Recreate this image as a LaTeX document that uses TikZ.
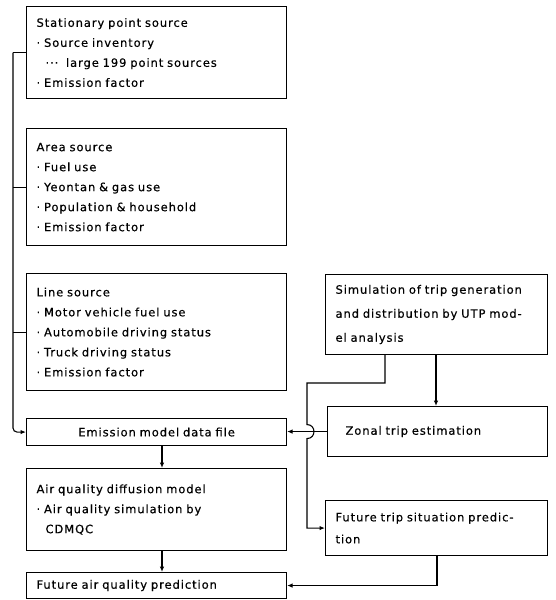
\documentclass[tikz,border=0pt]{standalone}
\usepackage{fontspec}
\setmainfont{DejaVu Sans}[LetterSpace=8,WordSpace=1.6,FakeBold=0.4]
\usetikzlibrary{arrows.meta}
\begin{document}
\begin{tikzpicture}[x=1pt,y=-1pt,
  box/.style={draw, line width=1.1pt, rectangle, anchor=north west, inner xsep=10pt, inner ysep=0pt, align=left, font=\fontsize{11.5pt}{20pt}\selectfont},
  conn/.style={line width=1.1pt},
  arr/.style={conn, -{Latex[length=5.5pt,width=4.5pt]}}]
\useasboundingbox (0,0) rectangle (555,600);

% left column
\node[box, minimum width=260pt, minimum height=92pt, text width=240pt] (sps) at (26,6)
  {Stationary point source\\ ·\ Source inventory\\ \hspace{9pt}···\ \ large 199 point sources\\ ·\ Emission factor};
\node[box, minimum width=260pt, minimum height=117pt, text width=240pt] (area) at (26,128)
  {Area source\\ ·\ Fuel use\\ ·\ Yeontan \& gas use\\ ·\ Population \& household\\ ·\ Emission factor};
\node[box, minimum width=260pt, minimum height=117pt, text width=240pt] (line) at (26,273)
  {Line source\\ ·\ Motor vehicle fuel use\\ ·\ Automobile driving status\\ ·\ Truck driving status\\ ·\ Emission factor};
\node[box, minimum width=260pt, minimum height=27pt, text width=240pt, align=center] (emis) at (26,418)
  {Emission model data file};
\node[box, minimum width=260pt, minimum height=82pt, text width=240pt] (diff) at (26,468)
  {Air quality diffusion model\\ ·\ Air quality simulation by\\ \hspace{9pt}CDMQC};
\node[box, minimum width=260pt, minimum height=26pt, text width=240pt] (fut) at (26,572)
  {Future air quality prediction};

% right column
\node[box, minimum width=222pt, minimum height=80pt, text width=214pt, inner xsep=4pt, font=\fontsize{11.5pt}{24pt}\selectfont] (sim) at (325,274)
  {\hspace{6pt}Simulation of trip generation\\ \hspace{6pt}and distribution by UTP mod-\\ \hspace{6pt}el analysis};
\node[box, minimum width=220pt, minimum height=50pt, text width=184pt, inner xsep=18pt] (zonal) at (327,406)
  {Zonal trip estimation};
\node[box, minimum width=222pt, minimum height=55pt, text width=214pt, inner xsep=4pt, font=\fontsize{11.5pt}{22pt}\selectfont] (ftrip) at (325,500)
  {\hspace{6pt}Future trip situation predic-\\ \hspace{6pt}tion};

% helper coordinates
\coordinate (bus) at (13,0);
\coordinate (ax) at (162,0);
\coordinate (zx) at (436,0);
\coordinate (sx) at (385,0);
\coordinate (hx) at (307,0);
\coordinate (fx) at (437,0);
\coordinate (bend) at (0,383);

% left bus
\draw[conn] (sps.west) -- (sps.west -| bus);
\draw[conn] (area.west) -- (area.west -| bus);
\draw[conn] (line.west) -- (line.west -| bus);
\draw[arr, rounded corners=4pt] (sps.west -| bus) -- (emis.west -| bus) -- (emis.west);

% vertical flow
\draw[arr] (emis.south -| ax) -- (diff.north -| ax);
\draw[arr] (diff.south -| ax) -- (fut.north -| ax);

% right side
\draw[arr] (sim.south -| zx) -- (zonal.north -| zx);
\draw[arr] (zonal.west) -- (zonal.west -| emis.east);
\draw[arr] (sim.south -| sx) -- (bend -| sx) -- (bend -| hx) -- ([yshift=7pt]zonal.west -| hx)
  .. controls ([xshift=9.3pt,yshift=7pt]zonal.west -| hx) and ([xshift=9.3pt,yshift=-7pt]zonal.west -| hx) .. ([yshift=-7pt]zonal.west -| hx)
  -- (ftrip.west -| hx) -- (ftrip.west);
\draw[arr] (ftrip.south -| fx) -- (fut.east -| fx) -- (fut.east);
\end{tikzpicture}
\end{document}
